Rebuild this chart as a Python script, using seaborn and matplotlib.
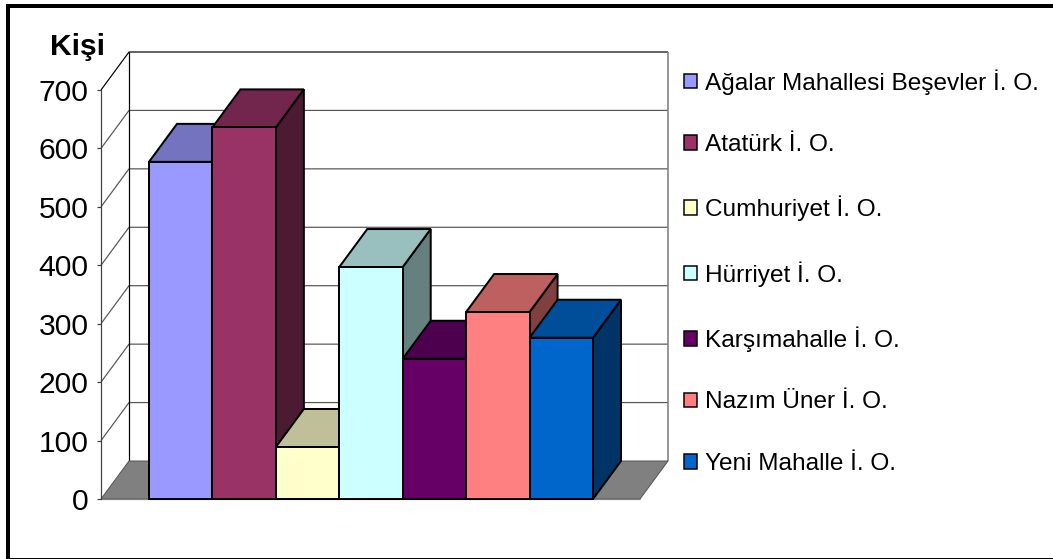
import numpy as np
import pandas as pd
import matplotlib
matplotlib.use("Agg")
import matplotlib.pyplot as plt
from matplotlib.colors import to_rgb
from matplotlib.patches import Patch, Polygon, Rectangle
import seaborn as sns

schools = ["Ağalar Mahallesi Beşevler İ. O.", "Atatürk İ. O.", "Cumhuriyet İ. O.",
           "Hürriyet İ. O.", "Karşımahalle İ. O.", "Nazım Üner İ. O.", "Yeni Mahalle İ. O."]
students = [577, 636, 89, 397, 240, 320, 276]
colors = ["#9999FF", "#993366", "#FFFFCC", "#CCFFFF", "#660066", "#FF8080", "#0066CC"]
y_ticks = [0, 100, 200, 300, 400, 500, 600, 700]

W, H = 1053, 559
sns.set_style("white")
plt.rcParams["font.family"] = ["Liberation Sans", "DejaVu Sans"]
plt.rcParams["text.color"] = "black"

fig = plt.figure(figsize=(W / 100, H / 100), dpi=100, facecolor="white")
PX = 0.72  # points per pixel

# front plane of the pseudo-3D box, in pixels
left, right, y0, y700 = 101, 640, 499, 90
ax = fig.add_axes([left / W, 1 - y0 / H, (right - left) / W, (y0 - y700) / H])
ax.patch.set_alpha(0)

df = pd.DataFrame({"school": schools, "students": students})
sns.barplot(data=df, x=np.arange(len(schools)), y="students", hue="school", palette=colors,
            saturation=1, dodge=False, width=1.0, legend=False, ax=ax,
            edgecolor="black", linewidth=2.0 * PX)

cat_px = (593 - 149) / 7
ax.set_xlim(-0.5 - (149 - left) / cat_px, 6.5 + (right - 593) / cat_px)
ax.set_ylim(0, 700)
px_y = (y0 - y700) / 700
dx = 28 / cat_px
dy = 38 / px_y
x0, x1 = ax.get_xlim()

def poly(pts, fc, z, ec="black", lw=1.5):
    ax.add_patch(Polygon(pts, closed=True, facecolor=fc, edgecolor=ec, linewidth=lw * PX,
                         clip_on=False, zorder=z, joinstyle="miter"))

def line(xs, ys, color, lw, z):
    ax.plot(xs, ys, color=color, lw=lw * PX, clip_on=False, zorder=z, solid_capstyle="butt")

# back wall and grid
for t in y_ticks[1:-1]:
    line([x0, x0 + dx, x1 + dx], [t, t + dy, t + dy], "#555555", 1.2, 0.5)
line([x0, x0 + dx, x1 + dx], [700, 700 + dy, 700 + dy], "black", 1.2, 0.6)
line([x0 + dx, x0 + dx], [dy, 700 + dy], "black", 1.2, 0.6)
line([x1 + dx, x1 + dx], [dy, 700 + dy], "#808080", 1.6, 0.6)
# floor
poly([(x0, 0), (x1, 0), (x1 + dx, dy), (x0 + dx, dy)], "#808080", 0.8, ec="#555555", lw=1)
line([x0, x1], [0, 0], "#808080", 1.2, 0.9)

# bars: seaborn's front faces with depth faces derived from their values
fronts = [p for p in ax.patches if isinstance(p, Rectangle) and p.get_width() > 0]
fronts = sorted(fronts, key=lambda p: p.get_x())
for i, (p, color) in enumerate(zip(fronts, colors)):
    a, b, h = p.get_x(), p.get_x() + p.get_width(), p.get_height()
    base = np.array(to_rgb(color))
    poly([(b, 0), (b + dx, dy), (b + dx, h + dy), (b, h)], tuple(base * 0.5), 2 + 3 * i, lw=2.0)
    poly([(a, h), (a + dx, h + dy), (b + dx, h + dy), (b, h)], tuple(base * 0.75), 3 + 3 * i, lw=2.0)
    p.set_zorder(4 + 3 * i)
    p.set_clip_on(False)

# axes furniture
sns.despine(ax=ax, left=False, bottom=True, right=True, top=True)
ax.spines["left"].set_color("#404040")
ax.spines["left"].set_linewidth(1.2 * PX)
ax.set_xticks([])
ax.set_yticks(y_ticks)
ax.tick_params(axis="y", left=True, length=4.5 * PX, width=1.2 * PX, color="#404040",
               pad=8 * PX, labelsize=30 * PX, labelcolor="black")
ax.set_xlabel("")
ax.set_ylabel("")
fig.text(77 / W, 1 - 47 / H, "Kişi", fontsize=30 * PX, fontweight="bold", ha="center", va="center",
         color="black")

handles = [Patch(facecolor=c, edgecolor="black", linewidth=1.5 * PX, label=s)
           for c, s in zip(colors, schools)]
leg = ax.legend(handles=handles, loc="upper left", bbox_transform=fig.transFigure,
                bbox_to_anchor=(684 / W, 1 - 69 / H), frameon=False, fontsize=24.4 * PX,
                handlelength=0.55, handleheight=0.55, handletextpad=0.32, borderpad=0, borderaxespad=0,
                labelspacing=1.625)
for t in leg.get_texts():
    t.set_color("black")

# outer frame
fig.add_artist(Rectangle((8 / W, 1 - 560 / H), (1056 - 8) / W, (560 - 6) / H, transform=fig.transFigure,
                         fill=False, edgecolor="black", linewidth=4 * PX))

fig.savefig("out.png", dpi=100)
